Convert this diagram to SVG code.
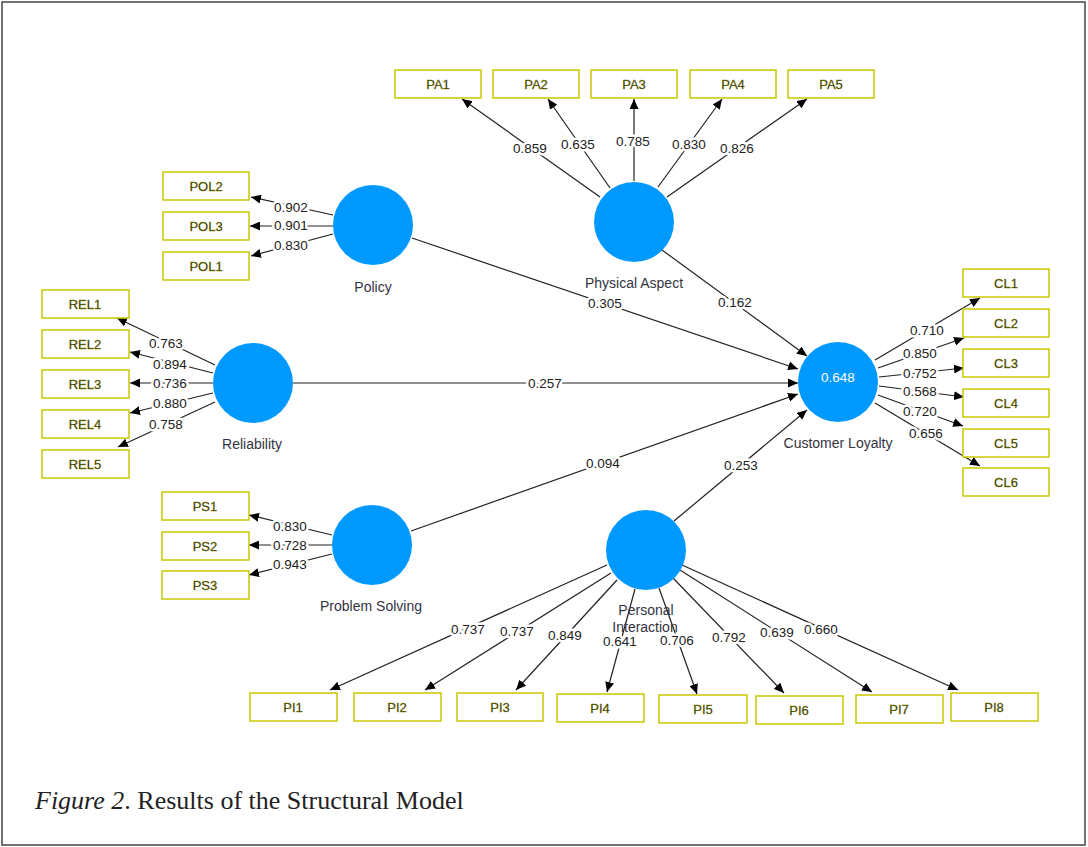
<svg xmlns="http://www.w3.org/2000/svg" width="1088" height="847" viewBox="0 0 1088 847">
<style>
.frame{fill:#fff;stroke:#444;stroke-width:1.5}
.lv{fill:#0099FF;stroke:none}
.box{fill:#fff;stroke:#C8C800;stroke-width:1.5}
.bt{font-family:"Liberation Sans",Arial,sans-serif;font-size:13px;fill:#262600;text-anchor:middle;stroke:#8a8a00;stroke-width:0.3}
.nt{font-family:"Liberation Sans",Arial,sans-serif;font-size:14px;fill:#33333f;text-anchor:middle}
.r2{font-family:"Liberation Sans",Arial,sans-serif;font-size:13.5px;fill:#fff;text-anchor:middle}
.c line{stroke:#222;stroke-width:1.2;marker-end:url(#ah)}
.w{font-family:"Liberation Sans",Arial,sans-serif;font-size:13.5px;fill:#222;text-anchor:middle;stroke:#fff;stroke-width:5;paint-order:stroke;stroke-linejoin:round}
.cap{font-family:"Liberation Serif","Times New Roman",serif;font-size:26px;fill:#222}
</style>
<defs>
<marker id="ah" markerUnits="userSpaceOnUse" markerWidth="11" markerHeight="9" refX="10" refY="4.5" orient="auto">
<path d="M0,0 L10,4.5 L0,9 z" fill="#000"/>
</marker>
</defs>
<rect class="frame" x="2" y="2" width="1083" height="843"/>

<g id="connectors" class="c">
<line x1="600" y1="197" x2="462" y2="99"/>
<line x1="610" y1="188" x2="548" y2="99"/>
<line x1="634" y1="181" x2="634" y2="99"/>
<line x1="658" y1="187" x2="722" y2="99"/>
<line x1="667" y1="197" x2="807" y2="99"/>
<line x1="333" y1="215" x2="251" y2="197"/>
<line x1="333" y1="226" x2="250" y2="226"/>
<line x1="333" y1="234" x2="251" y2="256"/>
<line x1="215" y1="365" x2="117" y2="318"/>
<line x1="213" y1="373" x2="130" y2="352"/>
<line x1="213" y1="383" x2="130" y2="383"/>
<line x1="213" y1="393" x2="130" y2="413"/>
<line x1="215" y1="402" x2="118" y2="447"/>
<line x1="332" y1="535" x2="249" y2="515"/>
<line x1="332" y1="545" x2="249" y2="545"/>
<line x1="332" y1="554" x2="249" y2="575"/>
<line x1="875" y1="360" x2="980" y2="298"/>
<line x1="878" y1="368" x2="964" y2="338"/>
<line x1="879" y1="377" x2="964" y2="368"/>
<line x1="879" y1="386" x2="964" y2="397"/>
<line x1="878" y1="395" x2="963" y2="426"/>
<line x1="875" y1="403" x2="980" y2="466"/>
<line x1="607" y1="565" x2="330" y2="690"/>
<line x1="611" y1="573" x2="425" y2="690"/>
<line x1="617" y1="580" x2="516" y2="690"/>
<line x1="635" y1="589" x2="607" y2="692"/>
<line x1="659" y1="588" x2="697" y2="694"/>
<line x1="673" y1="578" x2="784" y2="693"/>
<line x1="680" y1="570" x2="872" y2="692"/>
<line x1="682" y1="565" x2="958" y2="690"/>
<line x1="412" y1="238" x2="798" y2="369"/>
<line x1="662" y1="250" x2="807" y2="356"/>
<line x1="293" y1="383" x2="798" y2="383"/>
<line x1="411" y1="531" x2="798" y2="394"/>
<line x1="674" y1="521" x2="807" y2="410"/>
</g>

<g id="weights">
<text class="w" x="530" y="153">0.859</text>
<text class="w" x="578" y="149">0.635</text>
<text class="w" x="633" y="146">0.785</text>
<text class="w" x="689" y="149">0.830</text>
<text class="w" x="737" y="153">0.826</text>
<text class="w" x="291" y="212">0.902</text>
<text class="w" x="291" y="230">0.901</text>
<text class="w" x="291" y="250">0.830</text>
<text class="w" x="166" y="348">0.763</text>
<text class="w" x="170" y="369">0.894</text>
<text class="w" x="170" y="388">0.736</text>
<text class="w" x="170" y="408">0.880</text>
<text class="w" x="166" y="429">0.758</text>
<text class="w" x="290" y="531">0.830</text>
<text class="w" x="290" y="550">0.728</text>
<text class="w" x="290" y="569">0.943</text>
<text class="w" x="927" y="335">0.710</text>
<text class="w" x="920" y="358">0.850</text>
<text class="w" x="920" y="378">0.752</text>
<text class="w" x="920" y="396">0.568</text>
<text class="w" x="920" y="416">0.720</text>
<text class="w" x="926" y="438">0.656</text>
<text class="w" x="468" y="634">0.737</text>
<text class="w" x="517" y="636">0.737</text>
<text class="w" x="565" y="640">0.849</text>
<text class="w" x="620" y="646">0.641</text>
<text class="w" x="677" y="645">0.706</text>
<text class="w" x="729" y="642">0.792</text>
<text class="w" x="777" y="637">0.639</text>
<text class="w" x="821" y="634">0.660</text>
<text class="w" x="605" y="308">0.305</text>
<text class="w" x="735" y="307">0.162</text>
<text class="w" x="545" y="388">0.257</text>
<text class="w" x="603" y="468">0.094</text>
<text class="w" x="741" y="470">0.253</text>
</g>

<g id="policy"><circle class="lv" cx="373" cy="225" r="40"/><text class="nt" x="373" y="292">Policy</text></g>
<g id="physical-aspect"><circle class="lv" cx="634" cy="222" r="40"/><text class="nt" x="634" y="288">Physical Aspect</text></g>
<g id="reliability"><circle class="lv" cx="253" cy="383" r="40"/><text class="nt" x="252" y="449">Reliability</text></g>
<g id="customer-loyalty"><circle class="lv" cx="838" cy="382" r="40"/><text class="r2" x="838" y="382">0.648</text><text class="nt" x="838" y="448">Customer Loyalty</text></g>
<g id="problem-solving"><circle class="lv" cx="372" cy="545" r="40"/><text class="nt" x="371" y="611">Problem Solving</text></g>
<g id="personal-interaction"><circle class="lv" cx="646" cy="550" r="40"/><text class="nt" x="646" y="615">Personal</text><text class="nt" x="645" y="632">Interaction</text></g>

<g id="PA1"><rect class="box" x="395" y="70" width="86" height="28"/><text class="bt" x="438" y="89">PA1</text></g>
<g id="PA2"><rect class="box" x="493" y="70" width="86" height="28"/><text class="bt" x="536" y="89">PA2</text></g>
<g id="PA3"><rect class="box" x="591" y="70" width="86" height="28"/><text class="bt" x="634" y="89">PA3</text></g>
<g id="PA4"><rect class="box" x="690" y="70" width="86" height="28"/><text class="bt" x="733" y="89">PA4</text></g>
<g id="PA5"><rect class="box" x="788" y="70" width="86" height="28"/><text class="bt" x="831" y="89">PA5</text></g>

<g id="POL2"><rect class="box" x="163" y="172" width="86" height="28"/><text class="bt" x="206" y="191">POL2</text></g>
<g id="POL3"><rect class="box" x="163" y="212" width="86" height="28"/><text class="bt" x="206" y="231">POL3</text></g>
<g id="POL1"><rect class="box" x="163" y="252" width="86" height="28"/><text class="bt" x="206" y="271">POL1</text></g>

<g id="REL1"><rect class="box" x="42" y="290" width="87" height="28"/><text class="bt" x="85" y="309">REL1</text></g>
<g id="REL2"><rect class="box" x="42" y="330" width="87" height="28"/><text class="bt" x="85" y="349">REL2</text></g>
<g id="REL3"><rect class="box" x="42" y="370" width="87" height="28"/><text class="bt" x="85" y="389">REL3</text></g>
<g id="REL4"><rect class="box" x="42" y="410" width="87" height="28"/><text class="bt" x="85" y="429">REL4</text></g>
<g id="REL5"><rect class="box" x="42" y="450" width="87" height="28"/><text class="bt" x="85" y="469">REL5</text></g>

<g id="PS1"><rect class="box" x="162" y="492" width="87" height="28"/><text class="bt" x="205" y="511">PS1</text></g>
<g id="PS2"><rect class="box" x="162" y="532" width="87" height="28"/><text class="bt" x="205" y="551">PS2</text></g>
<g id="PS3"><rect class="box" x="162" y="571" width="87" height="28"/><text class="bt" x="205" y="590">PS3</text></g>

<g id="CL1"><rect class="box" x="963" y="269" width="86" height="28"/><text class="bt" x="1006" y="288">CL1</text></g>
<g id="CL2"><rect class="box" x="963" y="309" width="86" height="28"/><text class="bt" x="1006" y="328">CL2</text></g>
<g id="CL3"><rect class="box" x="963" y="349" width="86" height="28"/><text class="bt" x="1006" y="368">CL3</text></g>
<g id="CL4"><rect class="box" x="963" y="389" width="86" height="28"/><text class="bt" x="1006" y="408">CL4</text></g>
<g id="CL5"><rect class="box" x="963" y="429" width="86" height="28"/><text class="bt" x="1006" y="448">CL5</text></g>
<g id="CL6"><rect class="box" x="963" y="468" width="86" height="28"/><text class="bt" x="1006" y="487">CL6</text></g>

<g id="PI1"><rect class="box" x="250" y="693" width="87" height="28"/><text class="bt" x="293" y="712">PI1</text></g>
<g id="PI2"><rect class="box" x="354" y="693" width="87" height="28"/><text class="bt" x="397" y="712">PI2</text></g>
<g id="PI3"><rect class="box" x="457" y="693" width="86" height="28"/><text class="bt" x="500" y="712">PI3</text></g>
<g id="PI4"><rect class="box" x="557" y="694" width="87" height="28"/><text class="bt" x="600" y="713">PI4</text></g>
<g id="PI5"><rect class="box" x="659" y="695" width="88" height="28"/><text class="bt" x="703" y="714">PI5</text></g>
<g id="PI6"><rect class="box" x="756" y="696" width="87" height="28"/><text class="bt" x="799" y="715">PI6</text></g>
<g id="PI7"><rect class="box" x="856" y="695" width="87" height="28"/><text class="bt" x="899" y="714">PI7</text></g>
<g id="PI8"><rect class="box" x="951" y="693" width="87" height="28"/><text class="bt" x="994" y="712">PI8</text></g>

<text class="cap" x="35" y="809"><tspan font-style="italic">Figure 2</tspan>. Results of the Structural Model</text>
</svg>
